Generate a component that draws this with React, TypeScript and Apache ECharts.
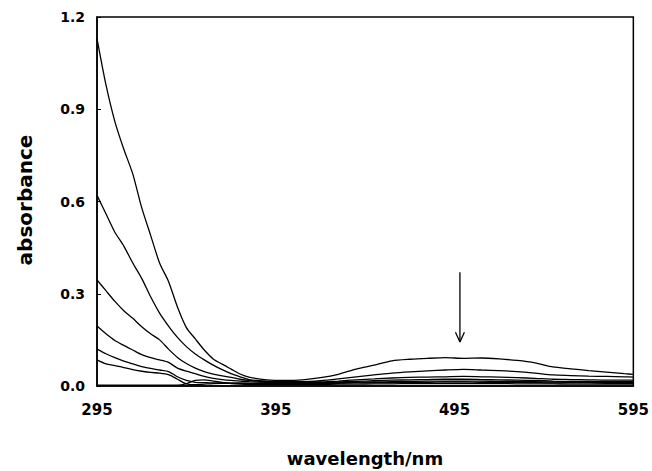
import React, { useEffect, useRef } from "react";
import * as echarts from "echarts";

const wavelengths = [295, 300, 305, 310, 315, 320, 325, 330, 335, 340, 345, 350, 355, 360, 365, 370, 375, 380, 390, 400, 410, 420, 430, 440, 450, 460, 470, 480, 490, 500, 510, 520, 530, 540, 550, 560, 570, 580, 590, 595];

const curve1 = [1.13, 0.98, 0.86, 0.77, 0.69, 0.58, 0.49, 0.40, 0.34, 0.257, 0.19, 0.153, 0.117, 0.088, 0.071, 0.055, 0.039, 0.029, 0.02, 0.018, 0.02, 0.027, 0.038, 0.055, 0.068, 0.082, 0.087, 0.09, 0.092, 0.09, 0.091, 0.088, 0.083, 0.075, 0.062, 0.056, 0.05, 0.045, 0.04, 0.038];
const curve2 = [0.62, 0.56, 0.50, 0.455, 0.40, 0.35, 0.29, 0.237, 0.195, 0.158, 0.128, 0.104, 0.085, 0.068, 0.053, 0.04, 0.03, 0.021, 0.016, 0.014, 0.014, 0.017, 0.023, 0.03, 0.036, 0.042, 0.046, 0.049, 0.052, 0.054, 0.052, 0.05, 0.047, 0.042, 0.036, 0.034, 0.032, 0.031, 0.03, 0.029];
const curve3 = [0.345, 0.31, 0.275, 0.245, 0.22, 0.193, 0.17, 0.15, 0.12, 0.093, 0.073, 0.058, 0.047, 0.039, 0.033, 0.028, 0.022, 0.018, 0.014, 0.012, 0.012, 0.013, 0.016, 0.02, 0.023, 0.026, 0.028, 0.029, 0.03, 0.031, 0.03, 0.029, 0.027, 0.025, 0.022, 0.021, 0.02, 0.019, 0.019, 0.019];
const curve4 = [0.195, 0.17, 0.148, 0.132, 0.117, 0.102, 0.092, 0.085, 0.077, 0.058, 0.048, 0.04, 0.031, 0.025, 0.021, 0.018, 0.016, 0.014, 0.012, 0.011, 0.01, 0.011, 0.013, 0.015, 0.017, 0.019, 0.02, 0.021, 0.022, 0.022, 0.021, 0.02, 0.019, 0.018, 0.016, 0.015, 0.015, 0.014, 0.014, 0.014];
const curve5 = [0.12, 0.105, 0.092, 0.081, 0.072, 0.063, 0.057, 0.052, 0.047, 0.03, 0.018, 0.012, 0.011, 0.01, 0.01, 0.009, 0.009, 0.009, 0.009, 0.009, 0.009, 0.01, 0.011, 0.012, 0.013, 0.014, 0.015, 0.016, 0.016, 0.016, 0.016, 0.015, 0.015, 0.014, 0.013, 0.012, 0.012, 0.012, 0.011, 0.011];
const curve6 = [0.085, 0.072, 0.066, 0.06, 0.053, 0.048, 0.044, 0.042, 0.037, 0.022, 0.007, 0.004, 0.006, 0.008, 0.009, 0.009, 0.009, 0.008, 0.008, 0.008, 0.008, 0.008, 0.009, 0.01, 0.011, 0.011, 0.012, 0.012, 0.013, 0.013, 0.012, 0.012, 0.012, 0.011, 0.01, 0.01, 0.01, 0.009, 0.009, 0.009];
const curve7 = [0.003, 0.003, 0.003, 0.003, 0.003, 0.003, 0.003, 0.003, 0.003, 0.003, 0.008, 0.018, 0.02, 0.016, 0.012, 0.008, 0.006, 0.005, 0.005, 0.005, 0.005, 0.005, 0.006, 0.006, 0.007, 0.007, 0.008, 0.008, 0.008, 0.008, 0.008, 0.008, 0.007, 0.007, 0.007, 0.006, 0.006, 0.006, 0.006, 0.006];

const curves = [curve1, curve2, curve3, curve4, curve5, curve6, curve7];

const xTicks = [295, 395, 495, 595];

const arrowShaft = [[498, 0.37], [498, 0.143]];
const arrowHead = [[495.5, 0.175], [498, 0.143], [500.5, 0.175]];

const FONT = "DejaVu Sans";

export default function App() {
  const ref = useRef<HTMLDivElement>(null);
  useEffect(() => {
    if (!ref.current) return;
    const chart = echarts.init(ref.current, undefined, { renderer: "svg" });
    const lineSeries = curves.map((c) => ({
      type: "line",
      data: wavelengths.map((w, i) => [w, c[i]]),
      showSymbol: false,
      symbol: "none",
      smooth: 0.25,
      lineStyle: { color: "#000", width: 1.3 },
      silent: true,
    }));
    const arrow = [arrowShaft, arrowHead].map((d) => ({
      type: "line",
      data: d,
      showSymbol: false,
      symbol: "none",
      lineStyle: { color: "#000", width: 1.3 },
      silent: true,
    }));
    chart.setOption({
      animation: false,
      backgroundColor: "#fff",
      grid: {
        left: 97,
        right: 17,
        top: 17,
        bottom: 85,
        show: true,
        borderColor: "#000",
        borderWidth: 1.5,
        backgroundColor: "transparent",
      },
      xAxis: {
        type: "value",
        min: 295,
        max: 595,
        axisLine: { show: true, lineStyle: { color: "#000", width: 1.5 } },
        axisTick: { show: false, customValues: xTicks },
        splitLine: { show: false },
        axisLabel: {
          customValues: xTicks,
          color: "#000",
          fontFamily: FONT,
          fontWeight: "bold",
          fontSize: 15,
          margin: 16,
        },
      },
      yAxis: {
        type: "value",
        min: 0,
        max: 1.2,
        interval: 0.3,
        axisLine: { show: true, lineStyle: { color: "#000", width: 1.5 } },
        axisTick: { show: true, inside: true, length: 4, lineStyle: { color: "#000", width: 1 } },
        splitLine: { show: false },
        axisLabel: {
          color: "#000",
          fontFamily: FONT,
          fontWeight: "bold",
          fontSize: 14,
          margin: 12,
          formatter: (v: number) => v.toFixed(1),
        },
      },
      graphic: [
        {
          type: "text",
          x: 25,
          y: 200,
          rotation: Math.PI / 2,
          style: {
            text: "absorbance",
            fontFamily: FONT,
            fontWeight: "bold",
            fontSize: 20,
            fill: "#000",
            align: "center",
            verticalAlign: "middle",
          },
        },
        {
          type: "text",
          x: 365,
          y: 458,
          style: {
            text: "wavelength/nm",
            fontFamily: FONT,
            fontWeight: "bold",
            fontSize: 18,
            fill: "#000",
            align: "center",
            verticalAlign: "middle",
          },
        },
      ],
      series: [...lineSeries, ...arrow],
    });
    return () => chart.dispose();
  }, []);
  return (
    <div
      ref={ref}
      style={{ position: "absolute", left: 0, top: 0, width: 652, height: 471 }}
    />
  );
}
